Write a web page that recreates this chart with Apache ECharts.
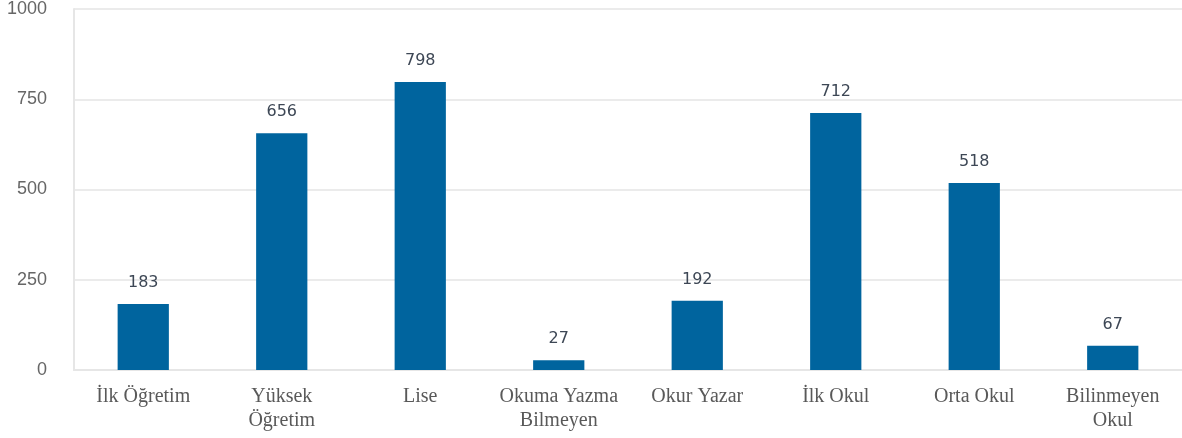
<!DOCTYPE html>
<html><head><meta charset="utf-8">
<script src="https://cdn.jsdelivr.net/npm/echarts@6/dist/echarts.min.js"></script>
<style>html,body{margin:0;padding:0;background:#fff}#c{width:1182px;height:438px}</style>
</head><body><div id="c"></div>
<script>
const categories = ["İlk Öğretim", "Yüksek\nÖğretim", "Lise", "Okuma Yazma\nBilmeyen", "Okur Yazar", "İlk Okul", "Orta Okul", "Bilinmeyen\nOkul"];
const values = [183, 656, 798, 27, 192, 712, 518, 67];
const yTicks = [0, 250, 500, 750, 1000];

const chart = echarts.init(document.getElementById('c'));
chart.setOption({
  animation: false,
  grid: {left: 74, right: 0, top: 8, bottom: 68},
  xAxis: {
    type: 'category', data: categories,
    axisLine: {show: true, lineStyle: {color: '#e6e6e6', width: 2}},
    axisTick: {show: false},
    axisLabel: {interval: 0, fontFamily: 'Liberation Serif', fontSize: 20, color: '#595959', lineHeight: 24, margin: 15}
  },
  yAxis: {
    type: 'value', min: yTicks[0], max: yTicks[yTicks.length-1], interval: 250,
    axisLine: {show: true, lineStyle: {color: '#e6e6e6', width: 2}},
    splitLine: {lineStyle: {color: '#ebebeb', width: 2}},
    axisLabel: {fontFamily: 'Liberation Sans', fontSize: 18, color: '#666666', margin: 27, formatter: v => String(v)}
  },
  series: [{
    type: 'bar', data: values, barWidth: '37%',
    itemStyle: {color: '#00649e'},
    label: {show: true, position: 'top', distance: 13, fontFamily: 'DejaVu Sans', fontSize: 16, color: '#3d4755'}
  }]
});
</script></body></html>
